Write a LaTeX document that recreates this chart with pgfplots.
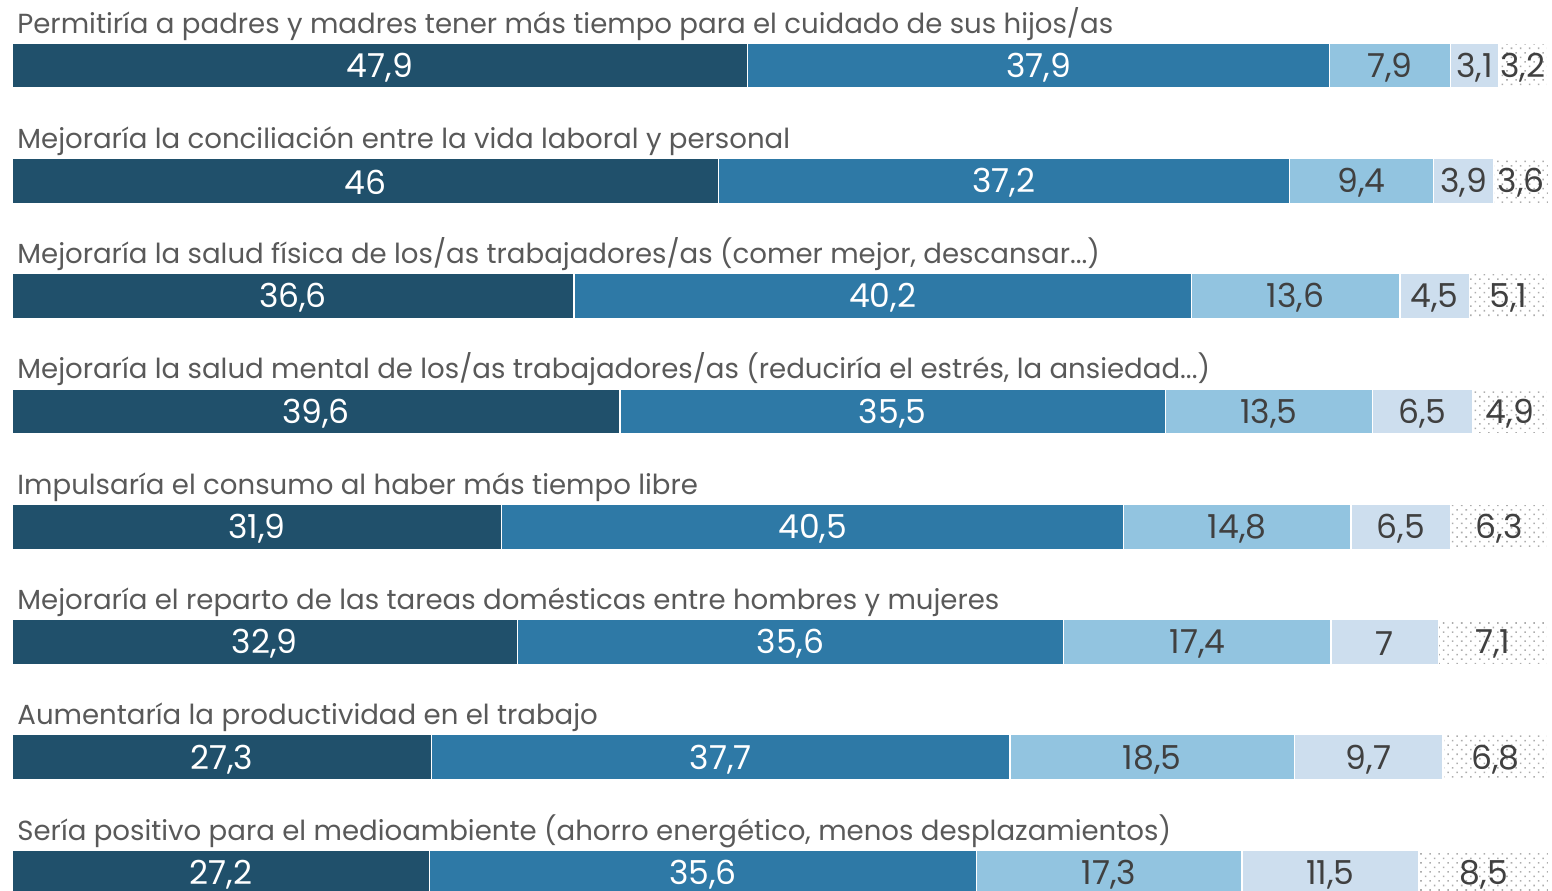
\documentclass[border=0pt]{standalone}
\usepackage{pgfplots}
\pgfplotsset{compat=1.18}
\usepackage{pgfplotstable}
\usetikzlibrary{patterns.meta}
\usepackage{fontspec}
\setmainfont{Poppins}
\definecolor{c1}{RGB}{32,80,107}
\definecolor{c2}{RGB}{46,121,166}
\definecolor{c3}{RGB}{146,196,224}
\definecolor{c4}{RGB}{205,222,238}
\definecolor{lblgray}{RGB}{89,89,89}
\definecolor{valgray}{RGB}{64,64,64}
\pgfplotstableread{
i a b c d e
0 47.9 37.9 7.9 3.1 3.2
1 46 37.2 9.4 3.9 3.6
2 36.6 40.2 13.6 4.5 5.1
3 39.6 35.5 13.5 6.5 4.9
4 31.9 40.5 14.8 6.5 6.3
5 32.9 35.6 17.4 7 7.1
6 27.3 37.7 18.5 9.7 6.8
7 27.2 35.6 17.3 11.5 8.5
}\data
\newcommand\seg[3]{\addplot[#2, draw=white, line width=0.6pt,
  every node near coord/.append style={text=#3}]
  table[x=#1, y=i, meta=#1] \data;}
\begin{document}
\begin{tikzpicture}
\begin{axis}[
  at={(6pt,0pt)}, anchor=south west,
  scale only axis, width=768.5pt, height=445pt,
  xmin=0, xmax=100.1, ymin=-0.568, ymax=7.151, y dir=reverse,
  xbar stacked, bar width=22.5pt,
  axis lines=none,
  point meta=explicit,
  nodes near coords,
  /pgf/number format/use comma,
  /pgf/number format/precision=1,
  /pgf/number format/assume math mode=true,
  every node near coord/.append style={anchor=center, inner sep=0pt, yshift=-1pt, font=\fontsize{16.5}{19}\selectfont},
]
\seg{a}{fill=c1}{white}
\seg{b}{fill=c2}{white}
\seg{c}{fill=c3}{valgray}
\seg{d}{fill=c4}{valgray}
\seg{e}{fill=white, pattern={Dots[distance=3.2pt, radius=0.55pt, angle=45]}, pattern color=black!32}{valgray}
\tikzset{lbl/.style={anchor=base west, xshift=2.5pt, yshift=5pt, text=lblgray, font=\fontsize{13.8}{15}\selectfont, inner sep=0pt}}
\node[lbl] at (axis cs:0,-0.195) {Permitiría a padres y madres tener más tiempo para el cuidado de sus hijos/as};
\node[lbl] at (axis cs:0,0.805) {Mejoraría la conciliación entre la vida laboral y personal};
\node[lbl] at (axis cs:0,1.805) {Mejoraría la salud física de los/as trabajadores/as (comer mejor, descansar...)};
\node[lbl] at (axis cs:0,2.805) {Mejoraría la salud mental de los/as trabajadores/as (reduciría el estrés, la ansiedad...)};
\node[lbl] at (axis cs:0,3.805) {Impulsaría el consumo al haber más tiempo libre};
\node[lbl] at (axis cs:0,4.805) {Mejoraría el reparto de las tareas domésticas entre hombres y mujeres};
\node[lbl] at (axis cs:0,5.805) {Aumentaría la productividad en el trabajo};
\node[lbl] at (axis cs:0,6.805) {Sería positivo para el medioambiente (ahorro energético, menos desplazamientos)};
\end{axis}
\pgfresetboundingbox
\path[use as bounding box] (0,0) rectangle (776pt,445pt);
\end{tikzpicture}
\end{document}
